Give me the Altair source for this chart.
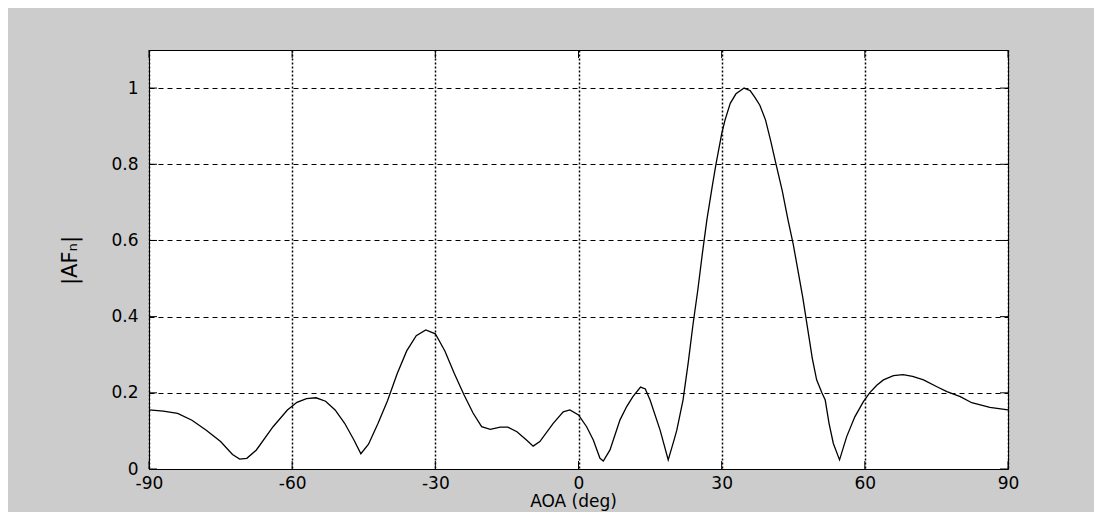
import altair as alt
import pandas as pd

# --- data ---
aoa = [-90, -87, -84, -81, -78, -75, -72.5, -71, -69.5, -67.5, -64, -61, -59, -57, -55,
       -53, -51, -49, -47, -45.6, -44, -42, -40, -38, -36, -34, -32, -30, -28, -26,
       -24, -22.1, -20.3, -18.5, -16.4, -14.8, -12.9, -10.9, -9.5, -8.1, -5.3, -3.2,
       -1.8, 0, 1.7, 3.1, 4.5, 5.2, 6.6, 8.7, 10.1, 11.4, 13, 14, 15, 17.1, 18.8,
       20, 20.6, 21.9, 23, 24, 25, 26, 26.9, 28, 28.8, 30, 30.7, 31.8, 33, 34.7, 36,
       37, 38, 39.2, 40.3, 41.4, 42.7, 43.9, 45, 46, 47, 48, 49, 49.9, 51, 51.7, 52.5,
       53.4, 54.7, 56.2, 57.9, 59.7, 61, 62.5, 63.9, 66, 68, 70, 72.3, 75.1, 77.2, 80,
       82.4, 86.2, 90]
af = [0.155, 0.152, 0.146, 0.128, 0.102, 0.072, 0.038, 0.026, 0.028, 0.05, 0.111, 0.155,
      0.175, 0.185, 0.187, 0.178, 0.155, 0.12, 0.075, 0.04, 0.065, 0.12, 0.18, 0.25,
      0.31, 0.35, 0.365, 0.355, 0.31, 0.25, 0.195, 0.147, 0.111, 0.104, 0.11, 0.11,
      0.098, 0.076, 0.06, 0.072, 0.12, 0.15, 0.155, 0.142, 0.111, 0.076, 0.028, 0.021,
      0.05, 0.129, 0.164, 0.19, 0.215, 0.21, 0.181, 0.102, 0.024, 0.075, 0.102, 0.181,
      0.28, 0.38, 0.47, 0.57, 0.654, 0.74, 0.8, 0.88, 0.916, 0.96, 0.985, 1.0, 0.993,
      0.975, 0.955, 0.916, 0.86, 0.8, 0.73, 0.654, 0.59, 0.52, 0.45, 0.37, 0.29, 0.234,
      0.2, 0.181, 0.12, 0.067, 0.024, 0.085, 0.137, 0.177, 0.2, 0.22, 0.234, 0.245,
      0.248, 0.243, 0.234, 0.216, 0.203, 0.19, 0.174, 0.162, 0.155]

x_ticks = [-90, -60, -30, 0, 30, 60, 90]
y_ticks = [0, 0.2, 0.4, 0.6, 0.8, 1]

title_text = "Fig 3 Arriving Paths of the Direct Path, Multipath 1, Multipath 2 and the Combined pat"

W, H = 859, 419
TL = 8  # inward tick length

df = pd.DataFrame({"aoa": aoa, "af": af})
dfx = pd.DataFrame({"aoa": x_ticks})
dfy = pd.DataFrame({"af": y_ticks})

xscale = alt.Scale(domain=[-90, 90], nice=False, zero=False)
yscale = alt.Scale(domain=[0, 1.1], nice=False, zero=False)

font = "DejaVu Sans"

xaxis = alt.Axis(values=x_ticks, grid=True, gridDash=[2, 2], gridColor="black",
                 gridOpacity=1, gridWidth=1.5, ticks=False, tickSize=0, domain=False,
                 labelExpr="'' + datum.value", labelFont=font, labelFontSize=17,
                 labelColor="black", labelPadding=6, labelFlush=False,
                 title="AOA (deg)", titleFont=font, titleFontSize=17,
                 titleFontWeight="normal", titleColor="black",
                 titleX=424, titleY=37, titleAlign="center",
                 titleBaseline="alphabetic")
yaxis = alt.Axis(values=y_ticks, grid=True, gridDash=[5, 4], gridColor="black",
                 gridOpacity=1, gridWidth=1, ticks=False, tickSize=0, domain=False,
                 labelExpr="'' + datum.value", labelFont=font, labelFontSize=17,
                 labelColor="black", labelPadding=11, labelFlush=False,
                 title="|AFₙ|", titleFont=font, titleFontSize=21,
                 titleFontWeight="normal", titleColor="black",
                 titleAngle=270, titleX=-73, titleY=210, titleAlign="center",
                 titleBaseline="alphabetic")

line = alt.Chart(df).mark_line(color="black", strokeWidth=1.3).encode(
    x=alt.X("aoa:Q", scale=xscale, axis=xaxis),
    y=alt.Y("af:Q", scale=yscale, axis=yaxis),
)

tick_bottom = alt.Chart(dfx).mark_rule(color="black", strokeWidth=1).encode(
    x=alt.X("aoa:Q", scale=xscale, axis=xaxis), y=alt.value(H), y2=alt.value(H - TL))
tick_top = alt.Chart(dfx).mark_rule(color="black", strokeWidth=1).encode(
    x=alt.X("aoa:Q", scale=xscale, axis=xaxis), y=alt.value(0), y2=alt.value(TL))
tick_left = alt.Chart(dfy).mark_rule(color="black", strokeWidth=1).encode(
    y=alt.Y("af:Q", scale=yscale, axis=yaxis), x=alt.value(0), x2=alt.value(TL))
tick_right = alt.Chart(dfy).mark_rule(color="black", strokeWidth=1).encode(
    y=alt.Y("af:Q", scale=yscale, axis=yaxis), x=alt.value(W - TL), x2=alt.value(W))

chart = alt.layer(line, tick_bottom, tick_top, tick_left, tick_right).properties(
    width=W, height=H,
    autosize=alt.AutoSizeParams(type="none"),
    padding={"left": 141, "top": 42, "right": 86, "bottom": 43},
    background="#cccccc",
    title=alt.TitleParams(text=title_text, font="Liberation Serif", fontWeight="bold",
                          fontSize=19, color="black", anchor="middle", frame="group",
                          offset=45, dx=-25, baseline="alphabetic"),
).configure_view(stroke="black", strokeWidth=1, fill="white")

chart.save("out.html", embed_options={"renderer": "svg", "actions": False})
